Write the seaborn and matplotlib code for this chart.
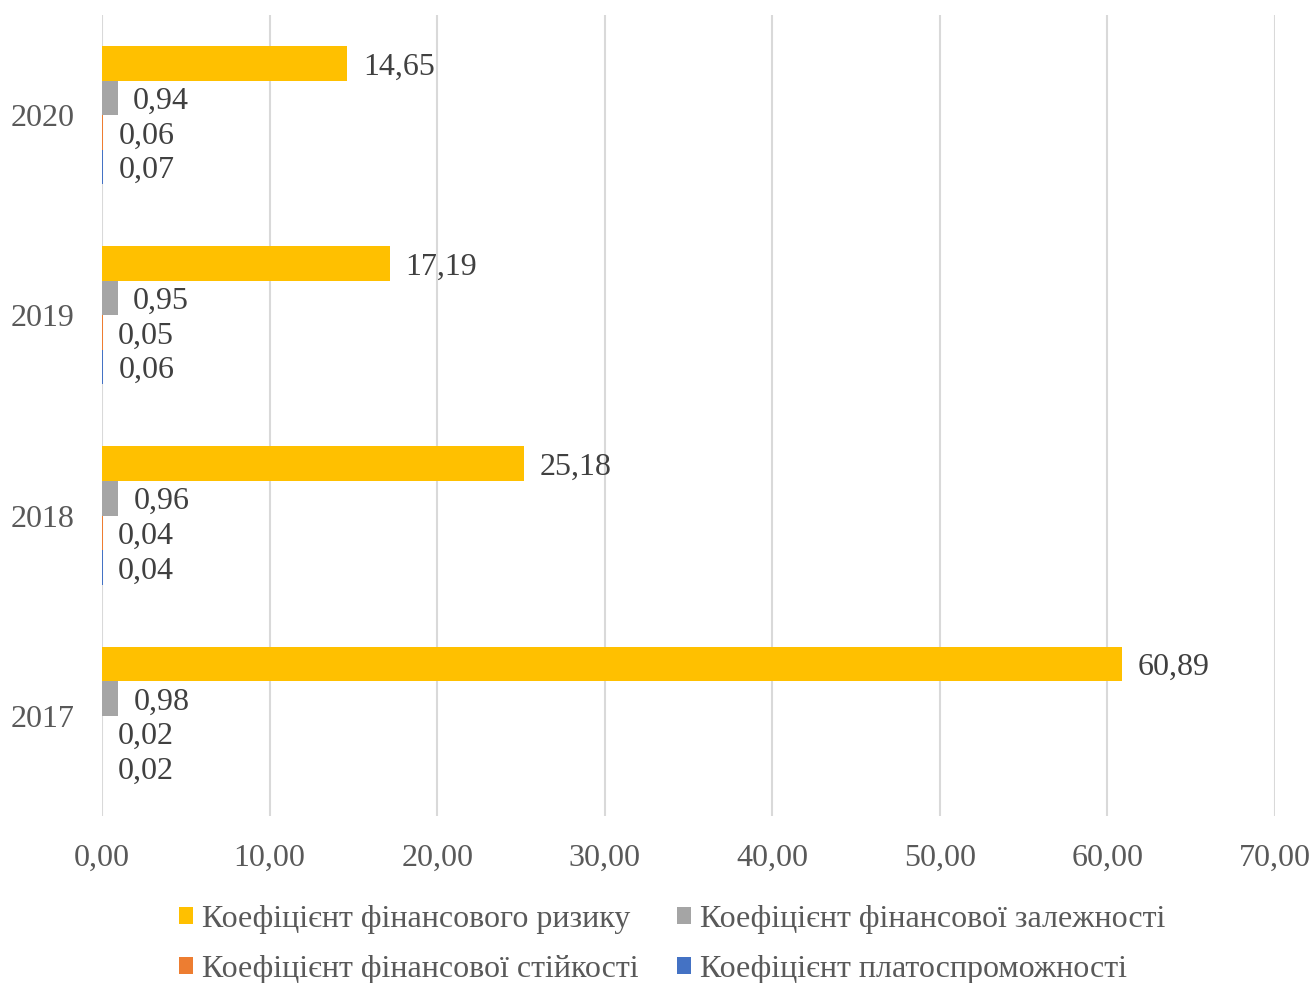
import matplotlib
matplotlib.use("Agg")
import matplotlib.pyplot as plt
from matplotlib.ticker import FuncFormatter, MultipleLocator
from matplotlib.patches import Patch
from matplotlib.font_manager import FontProperties
import seaborn as sns
import pandas as pd

years = ["2020", "2019", "2018", "2017"]
risk = [14.65, 17.19, 25.18, 60.89]
dependence = [0.94, 0.95, 0.96, 0.98]
stability = [0.06, 0.05, 0.04, 0.02]
solvency = [0.07, 0.06, 0.04, 0.02]

series_names = [
    "Коефіцієнт фінансового ризику",
    "Коефіцієнт фінансової залежності",
    "Коефіцієнт фінансової стійкості",
    "Коефіцієнт платоспроможності",
]
colors = ["#FFC000", "#A5A5A5", "#ED7D31", "#4472C4"]

rows = []
for name, vals in zip(series_names, [risk, dependence, stability, solvency]):
    for y, v in zip(years, vals):
        rows.append({"year": y, "value": v, "series": name})
df = pd.DataFrame(rows)

sns.set_theme(style="white")
FONT = "Liberation Serif"
plt.rcParams["font.family"] = FONT
fp = FontProperties(family=FONT, size=23)

fig = plt.figure(figsize=(13.13, 9.83), dpi=100)
ax = fig.add_axes([0.0777, 0.170, 0.8933, 0.8147])

sns.barplot(
    data=df, y="year", x="value", hue="series", order=years,
    hue_order=series_names, palette=colors, orient="h",
    width=0.69, gap=0, saturation=1, errorbar=None, ax=ax, legend=False,
    linewidth=0, edgecolor="none",
)

for container in ax.containers:
    texts = ax.bar_label(
        container,
        labels=[f"{w:.2f}".replace(".", ",") for w in container.datavalues],
        padding=11, fontproperties=fp, color="#404040",
    )
    for t in texts:
        t.set_va("center_baseline")

ax.set_xlim(0, 70)
ax.xaxis.set_major_locator(MultipleLocator(10))
ax.xaxis.set_major_formatter(FuncFormatter(lambda v, p: f"{v:.2f}".replace(".", ",")))
ax.grid(axis="x", color="#D9D9D9", linewidth=1.5)
ax.set_axisbelow(True)
for s in ax.spines.values():
    s.set_visible(False)
ax.tick_params(axis="x", length=0, pad=20)
ax.tick_params(axis="y", length=0, pad=19.5)
for lab in ax.get_xticklabels() + ax.get_yticklabels():
    lab.set_fontproperties(fp)
    lab.set_color("#595959")
ax.set_xlabel("")
ax.set_ylabel("")

# column-major fill: left column = items 0,2; right column = items 1,3
order = [0, 2, 1, 3]
handles = [Patch(facecolor=colors[i], edgecolor="none") for i in order]
labels = [series_names[i] for i in order]
fig.legend(
    handles, labels, loc="lower center", ncol=2,
    bbox_to_anchor=(0.512, -0.03), frameon=False, prop=fp,
    labelcolor="#595959", handlelength=0.45, handleheight=0.45,
    handletextpad=0.28, columnspacing=1.2, labelspacing=0.66,
)

fig.savefig("out.png", dpi=100)
